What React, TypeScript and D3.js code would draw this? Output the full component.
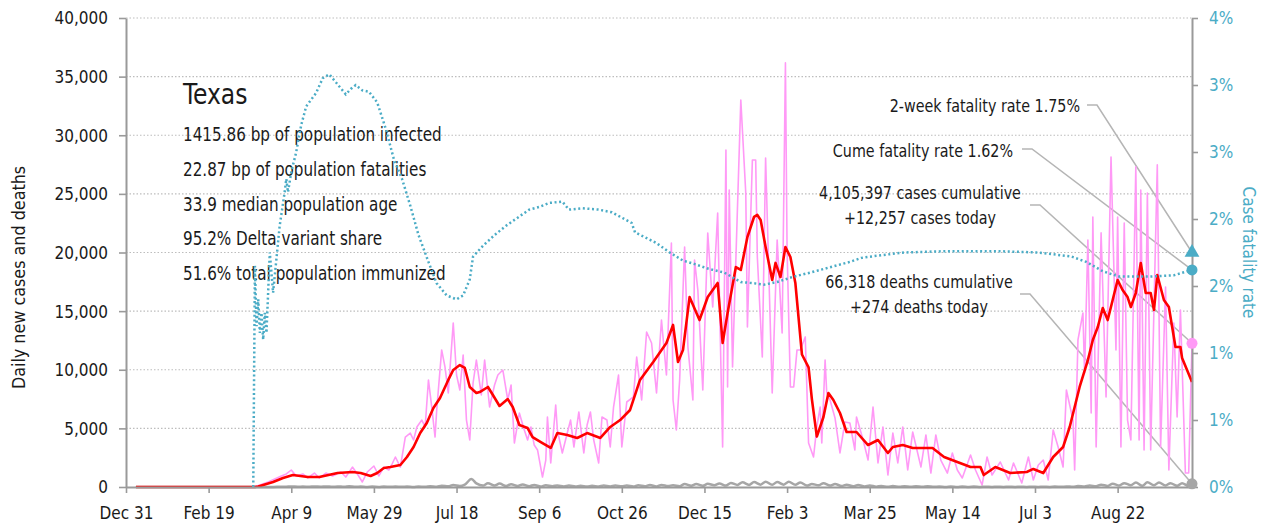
import React, { useEffect, useRef } from 'react';
import * as d3 from 'd3';

const WIDTH = 1265;
const HEIGHT = 527;
const FONT = "'DejaVu Sans Condensed', 'DejaVu Sans', sans-serif";

// axis ticks
const xTickDates = [
  '2019-12-31', '2020-02-19', '2020-04-09', '2020-05-29', '2020-07-18', '2020-09-06', '2020-10-26',
  '2020-12-15', '2021-02-03', '2021-03-25', '2021-05-14', '2021-07-03', '2021-08-22',
];
const caseTicks = [0, 5000, 10000, 15000, 20000, 25000, 30000, 35000, 40000];
const rateTicks = [0, 0.005, 0.01, 0.015, 0.02, 0.025, 0.03, 0.035];

// headline numbers
const stateName = 'Texas';
const statLines = [
  '1415.86 bp of population infected',
  '22.87 bp of population fatalities',
  '33.9 median population age',
  '95.2% Delta variant share',
  '51.6% total population immunized',
];
const cumulativeCases = 4105397;
const casesToday = 12257;
const cumulativeDeaths = 66318;
const deathsToday = 274;
const cumeRate = 0.0162;
const twoWeekRate = 0.0175;

// daily new cases (pink)
const dailyCases: [string, number][] = [
  ['2020-01-06', 0], ['2020-03-17', 0], ['2020-03-21', 170], ['2020-03-26', 430], ['2020-03-30', 680],
  ['2020-04-03', 940], ['2020-04-06', 1110], ['2020-04-09', 1450], ['2020-04-12', 940], ['2020-04-16', 1110],
  ['2020-04-19', 770], ['2020-04-23', 1190], ['2020-04-26', 770], ['2020-04-30', 1190], ['2020-05-04', 940],
  ['2020-05-09', 1280], ['2020-05-12', 850], ['2020-05-16', 1700], ['2020-05-19', 1110], ['2020-05-22', 430],
  ['2020-05-25', 1280], ['2020-05-29', 1790], ['2020-06-01', 940], ['2020-06-04', 1700], ['2020-06-07', 1450],
  ['2020-06-09', 1960], ['2020-06-11', 2560], ['2020-06-14', 1700], ['2020-06-17', 4260], ['2020-06-20', 4600],
  ['2020-06-22', 4010], ['2020-06-24', 5120], ['2020-06-27', 5710], ['2020-06-29', 5120], ['2020-07-01', 9130],
  ['2020-07-03', 6820], ['2020-07-05', 4260], ['2020-07-06', 6570], ['2020-07-09', 11690], ['2020-07-11', 10240],
  ['2020-07-13', 8020], ['2020-07-16', 13990], ['2020-07-18', 9550], ['2020-07-20', 8270], ['2020-07-22', 11260],
  ['2020-07-24', 5710], ['2020-07-26', 4010], ['2020-07-28', 8870], ['2020-07-30', 10830], ['2020-08-02', 7850],
  ['2020-08-04', 10830], ['2020-08-07', 6820], ['2020-08-10', 8700], ['2020-08-12', 9550], ['2020-08-15', 9980],
  ['2020-08-18', 7420], ['2020-08-20', 8700], ['2020-08-22', 3750], ['2020-08-25', 6310], ['2020-08-28', 4860],
  ['2020-08-30', 4010], ['2020-09-01', 5120], ['2020-09-03', 3580], ['2020-09-05', 3160], ['2020-09-08', 850],
  ['2020-09-10', 2300], ['2020-09-11', 5970], ['2020-09-13', 2050], ['2020-09-16', 6990], ['2020-09-17', 4860],
  ['2020-09-20', 2900], ['2020-09-23', 4600], ['2020-09-25', 5710], ['2020-09-27', 3410], ['2020-09-30', 6400],
  ['2020-10-03', 2900], ['2020-10-05', 5290], ['2020-10-07', 6400], ['2020-10-09', 4010], ['2020-10-12', 2050],
  ['2020-10-14', 5970], ['2020-10-17', 5710], ['2020-10-19', 3410], ['2020-10-21', 6820], ['2020-10-24', 9550],
  ['2020-10-26', 3410], ['2020-10-29', 7250], ['2020-11-02', 7680], ['2020-11-04', 11090], ['2020-11-07', 7420],
  ['2020-11-10', 13220], ['2020-11-13', 12280], ['2020-11-16', 8020], ['2020-11-19', 14240], ['2020-11-22', 9550],
  ['2020-11-25', 20810], ['2020-11-26', 7420], ['2020-11-28', 4860], ['2020-11-30', 9130], ['2020-12-03', 20470],
  ['2020-12-05', 11940], ['2020-12-08', 7420], ['2020-12-09', 19360], ['2020-12-11', 16800], ['2020-12-14', 8270],
  ['2020-12-17', 21660], ['2020-12-20', 15350], ['2020-12-23', 23370], ['2020-12-26', 3410], ['2020-12-28', 28740],
  ['2020-12-29', 8530], ['2020-12-30', 25330], ['2021-01-01', 10240], ['2021-01-06', 33010], ['2021-01-09', 25070],
  ['2021-01-10', 13650], ['2021-01-13', 27890], ['2021-01-15', 27890], ['2021-01-16', 19620], ['2021-01-19', 11090],
  ['2021-01-21', 28060], ['2021-01-25', 8020], ['2021-01-28', 21070], ['2021-01-31', 13140], ['2021-02-02', 36170],
  ['2021-02-03', 20220], ['2021-02-05', 8530], ['2021-02-07', 8530], ['2021-02-09', 11690], ['2021-02-11', 11690],
  ['2021-02-14', 12800], ['2021-02-16', 3750], ['2021-02-19', 2560], ['2021-02-21', 5120], ['2021-02-23', 6820],
  ['2021-02-24', 3750], ['2021-02-26', 10830], ['2021-02-27', 8020], ['2021-03-01', 7420], ['2021-03-04', 5890],
  ['2021-03-07', 2900], ['2021-03-10', 5540], ['2021-03-13', 5460], ['2021-03-16', 3160], ['2021-03-17', 5970],
  ['2021-03-21', 4010], ['2021-03-24', 2300], ['2021-03-27', 6820], ['2021-03-30', 2050], ['2021-04-02', 5120],
  ['2021-04-05', 1020], ['2021-04-08', 4600], ['2021-04-11', 2050], ['2021-04-14', 5120], ['2021-04-17', 1450],
  ['2021-04-20', 4690], ['2021-04-25', 1710], ['2021-04-28', 4440], ['2021-05-01', 1190], ['2021-05-04', 4440],
  ['2021-05-07', 2300], ['2021-05-11', 1190], ['2021-05-14', 2900], ['2021-05-17', 1450], ['2021-05-20', 770],
  ['2021-05-25', 2730], ['2021-05-28', 1450], ['2021-06-01', 170], ['2021-06-04', 2560], ['2021-06-07', 1020],
  ['2021-06-12', 2130], ['2021-06-17', 600], ['2021-06-20', 2050], ['2021-06-25', 340], ['2021-06-29', 2560],
  ['2021-07-02', 600], ['2021-07-05', 1880], ['2021-07-08', 2300], ['2021-07-11', 600], ['2021-07-14', 4860],
  ['2021-07-17', 3410], ['2021-07-20', 1710], ['2021-07-22', 8270], ['2021-07-26', 5710], ['2021-07-27', 1450],
  ['2021-07-29', 12540], ['2021-08-01', 14840], ['2021-08-02', 9720], ['2021-08-04', 21070], ['2021-08-06', 6310],
  ['2021-08-07', 23030], ['2021-08-09', 3410], ['2021-08-12', 21670], ['2021-08-15', 7680], ['2021-08-18', 28150],
  ['2021-08-21', 11690], ['2021-08-22', 23030], ['2021-08-24', 3410], ['2021-08-26', 22520], ['2021-08-28', 5710],
  ['2021-08-30', 4010], ['2021-09-02', 27300], ['2021-09-04', 4010], ['2021-09-05', 25330], ['2021-09-07', 3160],
  ['2021-09-09', 25070], ['2021-09-11', 3160], ['2021-09-15', 27470], ['2021-09-17', 3410], ['2021-09-20', 17060],
  ['2021-09-22', 1450], ['2021-09-25', 13990], ['2021-09-27', 5970], ['2021-09-29', 15100], ['2021-10-02', 1190],
  ['2021-10-04', 1190], ['2021-10-06', 12257],
];

// 7-day average of new cases (red)
const avgCases: [string, number][] = [
  ['2020-01-06', 0], ['2020-03-18', 0], ['2020-03-20', 50], ['2020-03-29', 430], ['2020-04-04', 770],
  ['2020-04-10', 1020], ['2020-04-19', 850], ['2020-04-26', 850], ['2020-05-07', 1190], ['2020-05-16', 1280],
  ['2020-05-21', 1190], ['2020-05-27', 940], ['2020-05-31', 1190], ['2020-06-04', 1620], ['2020-06-08', 1700],
  ['2020-06-14', 1880], ['2020-06-18', 2560], ['2020-06-22', 3410], ['2020-06-26', 4600], ['2020-06-30', 5460],
  ['2020-07-04', 6740], ['2020-07-08', 7590], ['2020-07-13', 9130], ['2020-07-16', 9980], ['2020-07-20', 10400],
  ['2020-07-23', 10150], ['2020-07-26', 8530], ['2020-07-30', 8020], ['2020-08-01', 8100], ['2020-08-06', 8530],
  ['2020-08-09', 7850], ['2020-08-13', 6910], ['2020-08-18', 7500], ['2020-08-21', 6820], ['2020-08-25', 5290],
  ['2020-08-30', 5030], ['2020-09-02', 4260], ['2020-09-08', 3750], ['2020-09-13', 3330], ['2020-09-17', 4600],
  ['2020-09-23', 4440], ['2020-09-29', 4180], ['2020-10-05', 4600], ['2020-10-13', 4180], ['2020-10-19', 5120],
  ['2020-10-25', 5710], ['2020-10-31', 6570], ['2020-11-06', 9130], ['2020-11-14', 10660], ['2020-11-22', 12280],
  ['2020-11-26', 13820], ['2020-11-29', 10660], ['2020-12-02', 11680], ['2020-12-06', 16200], ['2020-12-12', 14240],
  ['2020-12-17', 16200], ['2020-12-23', 17400], ['2020-12-26', 12280], ['2020-12-29', 14840], ['2021-01-03', 18760],
  ['2021-01-06', 18510], ['2021-01-10', 21320], ['2021-01-14', 23030], ['2021-01-16', 23200], ['2021-01-18', 22770],
  ['2021-01-21', 20470], ['2021-01-25', 17650], ['2021-01-27', 19110], ['2021-01-30', 17910], ['2021-02-02', 20470],
  ['2021-02-05', 19620], ['2021-02-08', 17400], ['2021-02-12', 11300], ['2021-02-16', 10200], ['2021-02-18', 7500],
  ['2021-02-21', 4300], ['2021-02-25', 5970], ['2021-02-28', 8020], ['2021-03-03', 7420], ['2021-03-07', 6310],
  ['2021-03-11', 4690], ['2021-03-17', 4690], ['2021-03-24', 3580], ['2021-03-30', 4010], ['2021-04-05', 2900],
  ['2021-04-08', 3410], ['2021-04-14', 3580], ['2021-04-20', 3330], ['2021-05-02', 3330], ['2021-05-09', 2560],
  ['2021-05-17', 2130], ['2021-05-25', 1710], ['2021-05-31', 1710], ['2021-06-02', 1020], ['2021-06-09', 1710],
  ['2021-06-18', 1190], ['2021-06-28', 1280], ['2021-07-02', 1540], ['2021-07-08', 1190], ['2021-07-14', 2560],
  ['2021-07-20', 3410], ['2021-07-24', 5120], ['2021-07-30', 8530], ['2021-08-04', 10830], ['2021-08-07', 12540],
  ['2021-08-10', 13650], ['2021-08-13', 15270], ['2021-08-16', 14240], ['2021-08-19', 15950], ['2021-08-22', 17650],
  ['2021-08-25', 16800], ['2021-08-28', 16200], ['2021-08-30', 15350], ['2021-09-02', 16550], ['2021-09-05', 19100],
  ['2021-09-08', 16550], ['2021-09-11', 16550], ['2021-09-13', 15100], ['2021-09-15', 18080], ['2021-09-19', 15950],
  ['2021-09-22', 15350], ['2021-09-24', 13650], ['2021-09-26', 11940], ['2021-09-29', 11940], ['2021-09-30', 11000],
  ['2021-10-03', 9980], ['2021-10-06', 8960],
];

// daily deaths (gray)
const dailyDeaths: [string, number][] = [
  ['2020-01-06', 0], ['2020-03-20', 2], ['2020-03-25', 5], ['2020-03-29', 8], ['2020-04-02', 20], ['2020-04-06', 30],
  ['2020-04-09', 45], ['2020-04-13', 20], ['2020-04-16', 40], ['2020-04-20', 20], ['2020-04-23', 45], ['2020-04-27', 25],
  ['2020-04-30', 50], ['2020-05-04', 15], ['2020-05-07', 50], ['2020-05-11', 20], ['2020-05-14', 55], ['2020-05-18', 15],
  ['2020-05-21', 40], ['2020-05-25', 10], ['2020-05-28', 35], ['2020-06-01', 10], ['2020-06-04', 40], ['2020-06-08', 15],
  ['2020-06-11', 35], ['2020-06-15', 15], ['2020-06-18', 40], ['2020-06-22', 10], ['2020-06-25', 45], ['2020-06-29', 15],
  ['2020-07-02', 60], ['2020-07-06', 20], ['2020-07-09', 110], ['2020-07-13', 60], ['2020-07-16', 170], ['2020-07-20', 80],
  ['2020-07-23', 200], ['2020-07-27', 675], ['2020-07-30', 310], ['2020-08-03', 120], ['2020-08-06', 320], ['2020-08-10', 130],
  ['2020-08-13', 290], ['2020-08-17', 90], ['2020-08-20', 240], ['2020-08-24', 90], ['2020-08-27', 220], ['2020-08-31', 70],
  ['2020-09-03', 180], ['2020-09-07', 40], ['2020-09-10', 150], ['2020-09-14', 70], ['2020-09-17', 130], ['2020-09-21', 50],
  ['2020-09-24', 120], ['2020-09-28', 40], ['2020-10-01', 110], ['2020-10-05', 40], ['2020-10-08', 110], ['2020-10-12', 40],
  ['2020-10-15', 120], ['2020-10-19', 40], ['2020-10-22', 130], ['2020-10-26', 60], ['2020-10-29', 130], ['2020-11-02', 50],
  ['2020-11-05', 150], ['2020-11-09', 60], ['2020-11-12', 170], ['2020-11-16', 50], ['2020-11-19', 180], ['2020-11-23', 80],
  ['2020-11-26', 150], ['2020-11-30', 70], ['2020-12-03', 250], ['2020-12-07', 100], ['2020-12-10', 250], ['2020-12-14', 100],
  ['2020-12-17', 270], ['2020-12-21', 150], ['2020-12-24', 300], ['2020-12-28', 120], ['2020-12-31', 350], ['2021-01-04', 180],
  ['2021-01-07', 400], ['2021-01-11', 180], ['2021-01-14', 420], ['2021-01-18', 200], ['2021-01-21', 450], ['2021-01-25', 200],
  ['2021-01-28', 420], ['2021-02-01', 200], ['2021-02-04', 450], ['2021-02-08', 200], ['2021-02-11', 380], ['2021-02-15', 120],
  ['2021-02-18', 250], ['2021-02-22', 150], ['2021-02-25', 330], ['2021-03-01', 120], ['2021-03-04', 250], ['2021-03-08', 90],
  ['2021-03-11', 200], ['2021-03-15', 60], ['2021-03-18', 170], ['2021-03-22', 40], ['2021-03-25', 130], ['2021-03-29', 30],
  ['2021-04-01', 90], ['2021-04-05', 20], ['2021-04-08', 80], ['2021-04-12', 20], ['2021-04-15', 70], ['2021-04-19', 20],
  ['2021-04-22', 60], ['2021-04-26', 15], ['2021-04-29', 55], ['2021-05-03', 15], ['2021-05-06', 50], ['2021-05-10', 10],
  ['2021-05-13', 40], ['2021-05-17', 10], ['2021-05-20', 40], ['2021-05-24', 10], ['2021-05-27', 35], ['2021-05-31', 5],
  ['2021-06-03', 30], ['2021-06-07', 8], ['2021-06-10', 30], ['2021-06-14', 8], ['2021-06-17', 25], ['2021-06-21', 5],
  ['2021-06-24', 30], ['2021-06-28', 10], ['2021-07-01', 30], ['2021-07-05', 5], ['2021-07-08', 25], ['2021-07-12', 10],
  ['2021-07-15', 35], ['2021-07-19', 15], ['2021-07-22', 50], ['2021-07-26', 20], ['2021-07-29', 80], ['2021-08-02', 40],
  ['2021-08-05', 130], ['2021-08-09', 60], ['2021-08-12', 200], ['2021-08-16', 90], ['2021-08-19', 280], ['2021-08-23', 120],
  ['2021-08-26', 330], ['2021-08-30', 150], ['2021-09-02', 380], ['2021-09-06', 100], ['2021-09-09', 400], ['2021-09-13', 150],
  ['2021-09-16', 380], ['2021-09-20', 120], ['2021-09-23', 330], ['2021-09-27', 100], ['2021-09-30', 320], ['2021-10-04', 80],
  ['2021-10-06', 274],
];

// cumulative case fatality rate (blue, right axis)
const fatalityRate: [string, number][] = [
  ['2020-03-17', 0], ['2020-03-18', 0.0165], ['2020-03-19', 0.012], ['2020-03-20', 0.014], ['2020-03-21', 0.0115],
  ['2020-03-22', 0.013], ['2020-03-23', 0.011], ['2020-03-24', 0.013], ['2020-03-25', 0.0115], ['2020-03-26', 0.0145],
  ['2020-03-27', 0.0175], ['2020-03-29', 0.0145], ['2020-03-31', 0.017], ['2020-04-02', 0.0195], ['2020-04-05', 0.022],
  ['2020-04-06', 0.023], ['2020-04-07', 0.022], ['2020-04-09', 0.0235], ['2020-04-12', 0.025], ['2020-04-15', 0.027],
  ['2020-04-18', 0.0284], ['2020-04-24', 0.0294], ['2020-04-28', 0.0305], ['2020-05-02', 0.0308], ['2020-05-06', 0.0302],
  ['2020-05-12', 0.0293], ['2020-05-15', 0.0297], ['2020-05-18', 0.03], ['2020-05-22', 0.0296], ['2020-05-26', 0.0295],
  ['2020-05-31', 0.0287], ['2020-06-05', 0.0268], ['2020-06-10', 0.0245], ['2020-06-15', 0.023], ['2020-06-20', 0.021],
  ['2020-06-25', 0.0188], ['2020-07-01', 0.0168], ['2020-07-06', 0.0152], ['2020-07-12', 0.0143], ['2020-07-18', 0.014],
  ['2020-07-22', 0.0143], ['2020-07-26', 0.0155], ['2020-07-28', 0.0172], ['2020-08-03', 0.018], ['2020-08-10', 0.0188],
  ['2020-08-17', 0.0195], ['2020-08-24', 0.0201], ['2020-08-31', 0.0207], ['2020-09-06', 0.0209], ['2020-09-12', 0.0212],
  ['2020-09-20', 0.0213], ['2020-09-24', 0.0207], ['2020-10-02', 0.0208], ['2020-10-12', 0.0207], ['2020-10-20', 0.0205],
  ['2020-10-26', 0.0201], ['2020-11-01', 0.0197], ['2020-11-03', 0.019], ['2020-11-08', 0.0187], ['2020-11-16', 0.0182],
  ['2020-11-24', 0.0175], ['2020-12-02', 0.0169], ['2020-12-10', 0.0166], ['2020-12-17', 0.0163], ['2020-12-27', 0.016],
  ['2021-01-06', 0.0153], ['2021-01-14', 0.0152], ['2021-01-20', 0.0151], ['2021-01-28', 0.0153], ['2021-02-07', 0.0157],
  ['2021-02-17', 0.016], ['2021-03-01', 0.0164], ['2021-03-13', 0.0168], ['2021-03-20', 0.0171], ['2021-04-01', 0.0173],
  ['2021-04-15', 0.0175], ['2021-05-10', 0.0176], ['2021-06-10', 0.0176], ['2021-07-05', 0.0175], ['2021-07-25', 0.0172],
  ['2021-08-03', 0.0168], ['2021-08-13', 0.0161], ['2021-08-23', 0.0157], ['2021-09-10', 0.0157], ['2021-09-25', 0.0158],
  ['2021-10-06', 0.0162],
];

const parseDate = d3.timeParse('%Y-%m-%d');
const toPoints = (rows: [string, number][]) => rows.map(([d, v]) => ({ date: parseDate(d) as Date, value: v }));

type G = d3.Selection<any, unknown, null, undefined>;

// the source font is a narrow grotesque, so DejaVu Condensed is squeezed a bit more
const addText = (
  parent: G, x: number, y: number, str: string,
  size: number, squeeze: number, anchor = 'start', fill = '#1a1a1a', rotate = 0,
) => parent.append('text')
  .attr('transform', `translate(${x},${y})${rotate ? ` rotate(${rotate})` : ''} scale(${squeeze},1)`)
  .attr('text-anchor', anchor)
  .attr('font-family', FONT)
  .attr('font-size', size)
  .attr('fill', fill)
  .text(str);

export default function App() {
  const svgRef = useRef<SVGSVGElement>(null);

  useEffect(() => {
    if (!svgRef.current) return;
    const svg = d3.select(svgRef.current);
    svg.selectAll('*').remove();

    const margin = { top: 18, right: 73, bottom: 40, left: 126 };
    const left = margin.left;
    const right = WIDTH - margin.right;
    const top = margin.top;
    const bottom = HEIGHT - margin.bottom;

    const x = d3.scaleTime()
      .domain([parseDate('2019-12-31') as Date, parseDate('2021-10-06') as Date])
      .range([left, right]);
    const y = d3.scaleLinear().domain([0, 40000]).range([bottom, top]);
    const yRate = d3.scaleLinear().domain([0, 0.035]).range([bottom, top]);

    const gridColor = '#bdbdbd';
    const axisColor = '#9a9a9a';
    const blue = '#4bacc6';
    const pink = '#ff99f6';
    const textColor = '#1a1a1a';

    svg.append('rect').attr('width', WIDTH).attr('height', HEIGHT).attr('fill', '#fff');

    // dotted gridlines
    svg.append('g')
      .selectAll('line')
      .data(caseTicks.filter(t => t > 0))
      .join('line')
      .attr('x1', left)
      .attr('x2', right)
      .attr('y1', d => y(d))
      .attr('y2', d => y(d))
      .attr('stroke', gridColor)
      .attr('stroke-width', 1.2)
      .attr('stroke-dasharray', '1.5 2');

    // state summary block
    const info = svg.append('g');
    addText(info, 183, 104, stateName, 29, 0.9);
    statLines.forEach((line, i) => addText(info, 183, 141 + i * 34.8, line, 20, 0.845));

    // right-hand annotations with leader lines
    const fmt = d3.format(',');
    const ex = x(x.domain()[1]);
    const notes = svg.append('g');
    const leader = (x0: number, y0: number, x1: number, y1: number) => {
      notes.append('path')
        .attr('d', `M${x0},${y0}H${x0 + 10}L${x1},${y1}`)
        .attr('fill', 'none')
        .attr('stroke', '#b5b5b5')
        .attr('stroke-width', 1.5);
    };
    const noteSize = 18.5;
    const noteSqueeze = 0.86;

    addText(notes, 1080, 112, `2-week fatality rate ${(twoWeekRate * 100).toFixed(2)}%`, noteSize, noteSqueeze, 'end');
    leader(1087, 105, ex, yRate(twoWeekRate));

    addText(notes, 1013, 157, `Cume fatality rate ${(cumeRate * 100).toFixed(2)}%`, noteSize, noteSqueeze, 'end');
    leader(1022, 149, ex, yRate(cumeRate));

    addText(notes, 920, 199, `${fmt(cumulativeCases)} cases cumulative`, noteSize, noteSqueeze, 'middle');
    addText(notes, 920, 224, `+${fmt(casesToday)} cases today`, noteSize, noteSqueeze, 'middle');
    leader(1030, 205, ex, y(casesToday));

    addText(notes, 919, 288, `${fmt(cumulativeDeaths)} deaths cumulative`, noteSize, noteSqueeze, 'middle');
    addText(notes, 919, 313, `+${fmt(deathsToday)} deaths today`, noteSize, noteSqueeze, 'middle');
    leader(1020, 294, ex, y(deathsToday));

    // series
    const caseLine = d3.line<{ date: Date; value: number }>()
      .x(d => x(d.date))
      .y(d => y(d.value));
    const deathLine = d3.line<{ date: Date; value: number }>()
      .x(d => x(d.date))
      .y(d => y(d.value))
      .curve(d3.curveMonotoneX);
    const rateLine = d3.line<{ date: Date; value: number }>()
      .x(d => x(d.date))
      .y(d => yRate(d.value));

    svg.append('path')
      .datum(toPoints(dailyCases))
      .attr('d', caseLine)
      .attr('fill', 'none')
      .attr('stroke', pink)
      .attr('stroke-width', 1.6)
      .attr('stroke-linejoin', 'round');

    svg.append('path')
      .datum(toPoints(dailyDeaths))
      .attr('d', deathLine)
      .attr('fill', 'none')
      .attr('stroke', '#a6a6a6')
      .attr('stroke-width', 2.5);

    svg.append('path')
      .datum(toPoints(avgCases))
      .attr('d', caseLine)
      .attr('fill', 'none')
      .attr('stroke', '#ff0000')
      .attr('stroke-width', 2.6)
      .attr('stroke-linejoin', 'round');

    svg.append('path')
      .datum(toPoints(fatalityRate))
      .attr('d', rateLine)
      .attr('fill', 'none')
      .attr('stroke', blue)
      .attr('stroke-width', 2.5)
      .attr('stroke-dasharray', '2 2.6');

    // axes
    const tickSize = 18.5;
    const styleAxis = (g: G, color: string, dx: number, dy: number, squeeze: number) => {
      g.select('.domain').attr('stroke', axisColor).attr('stroke-width', 2);
      g.selectAll('.tick line').attr('stroke', axisColor).attr('stroke-width', 1.6);
      g.selectAll('.tick text')
        .attr('x', 0)
        .attr('y', 0)
        .attr('transform', `translate(${dx},${dy}) scale(${squeeze},1)`)
        .attr('fill', color)
        .attr('font-family', FONT)
        .attr('font-size', tickSize);
    };

    const xAxis = svg.append('g')
      .attr('transform', `translate(0,${bottom})`)
      .call(d3.axisBottom(x)
        .tickValues(xTickDates.map(d => parseDate(d) as Date))
        .tickFormat(d3.timeFormat('%b %-d') as any)
        .tickSize(6)
        .tickSizeOuter(0));
    styleAxis(xAxis, textColor, 0, 19, 0.92);

    const yAxis = svg.append('g')
      .attr('transform', `translate(${left},0)`)
      .call(d3.axisLeft(y).tickValues(caseTicks).tickFormat(d3.format(',') as any).tickSize(7).tickSizeOuter(0));
    styleAxis(yAxis, textColor, -18, 0, 0.92);

    const rAxis = svg.append('g')
      .attr('transform', `translate(${right},0)`)
      .call(d3.axisRight(yRate)
        .tickValues(rateTicks)
        .tickFormat((d: any) => `${Math.round(d * 100 + 1e-9)}%`)
        .tickSize(6)
        .tickSizeOuter(0));
    styleAxis(rAxis, blue, 17, 0, 0.92);

    // axis titles
    addText(svg, 25, (top + bottom) / 2 + 25, 'Daily new cases and deaths', 18.5, 0.96, 'middle', textColor, -90);
    addText(svg, 1243, (top + bottom) / 2, 'Case fatality rate', 18.5, 0.92, 'middle', blue, 90);

    // end markers
    svg.append('path')
      .attr('d', d3.symbol(d3.symbolTriangle, 95)())
      .attr('transform', `translate(${ex},${yRate(twoWeekRate)})`)
      .attr('fill', blue);
    svg.append('circle').attr('cx', ex).attr('cy', yRate(cumeRate)).attr('r', 5.5).attr('fill', blue);
    svg.append('circle').attr('cx', ex).attr('cy', y(casesToday)).attr('r', 5.5).attr('fill', pink);
    svg.append('circle').attr('cx', ex).attr('cy', y(deathsToday)).attr('r', 5.5).attr('fill', '#a6a6a6');
  }, []);

  return (
    <svg
      ref={svgRef}
      width={WIDTH}
      height={HEIGHT}
      style={{ position: 'absolute', left: 0, top: 0, display: 'block' }}
    />
  );
}
